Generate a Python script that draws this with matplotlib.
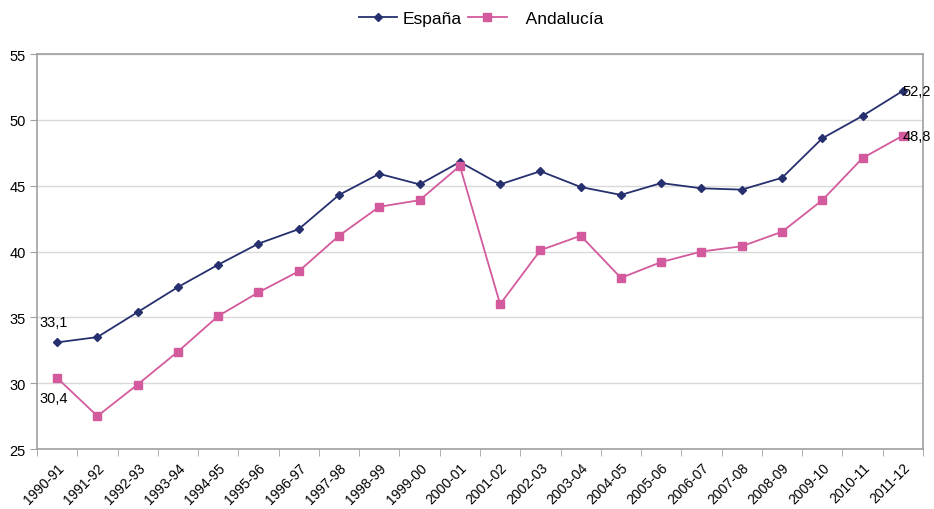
import matplotlib
matplotlib.use("Agg")
import matplotlib.pyplot as plt
import numpy as np

categories = ["1990-91", "1991-92", "1992-93", "1993-94", "1994-95", "1995-96",
              "1996-97", "1997-98", "1998-99", "1999-00", "2000-01", "2001-02",
              "2002-03", "2003-04", "2004-05", "2005-06", "2006-07", "2007-08",
              "2008-09", "2009-10", "2010-11", "2011-12"]
espana = [33.1, 33.5, 35.4, 37.3, 39.0, 40.6, 41.7, 44.3, 45.9, 45.1, 46.8, 45.1,
          46.1, 44.9, 44.3, 45.2, 44.8, 44.7, 45.6, 48.6, 50.3, 52.2]
andalucia = [30.4, 27.5, 29.9, 32.4, 35.1, 36.9, 38.5, 41.2, 43.4, 43.9, 46.5, 36.0,
             40.1, 41.2, 38.0, 39.2, 40.0, 40.4, 41.5, 43.9, 47.1, 48.8]
yticks = [25, 30, 35, 40, 45, 50, 55]

plt.rcParams['font.family'] = ['Liberation Sans', 'DejaVu Sans']

fig = plt.figure(figsize=(9.34, 5.10), dpi=100)
ax = fig.add_axes([0.0396, 0.1176, 0.9486, 0.7745])

x = np.arange(len(categories))
navy = '#27306F'
pink = '#D35A9C'
ax.plot(x, espana, color=navy, lw=1.3, marker='D', ms=4.5, label='España', zorder=3)
ax.plot(x, andalucia, color=pink, lw=1.3, marker='s', ms=6, label='   Andalucía', zorder=3)

ax.set_xlim(-0.5, len(categories) - 0.5)
ax.set_ylim(25, 55)
ax.set_yticks(yticks)
ax.yaxis.grid(True, color='#D9D9D9', lw=1)
ax.set_axisbelow(True)

ax.set_xticks(x)
ax.set_xticklabels(categories, rotation=45, ha='right', rotation_mode='anchor', fontsize=10)
ax.tick_params(axis='x', length=0, pad=8)
ax.set_xticks(np.arange(-0.5, len(categories)), minor=True)
ax.tick_params(axis='x', which='minor', length=5, color='#A0A0A0', direction='out')
ax.tick_params(axis='y', length=5, color='#A0A0A0', labelsize=10.5, pad=3)

for s in ax.spines.values():
    s.set_color('#A0A0A0')
    s.set_linewidth(1.2)

ax.annotate("33,1", (x[0], espana[0]), xytext=(-13, 12), textcoords='offset points', fontsize=10.5)
ax.annotate("30,4", (x[0], andalucia[0]), xytext=(-13, -17), textcoords='offset points', fontsize=10.5)
ax.annotate("52,2", (x[-1], espana[-1]), xytext=(0, -3), textcoords='offset points', fontsize=10.5)
ax.annotate("48,8", (x[-1], andalucia[-1]), xytext=(0, -3), textcoords='offset points', fontsize=10.5)

leg = fig.legend(loc='center', bbox_to_anchor=(0.515, 0.962), ncol=2, frameon=False,
                 fontsize=12.5, handlelength=2.2, columnspacing=0.4, handletextpad=0.3)

fig.savefig("out.png", dpi=100)
